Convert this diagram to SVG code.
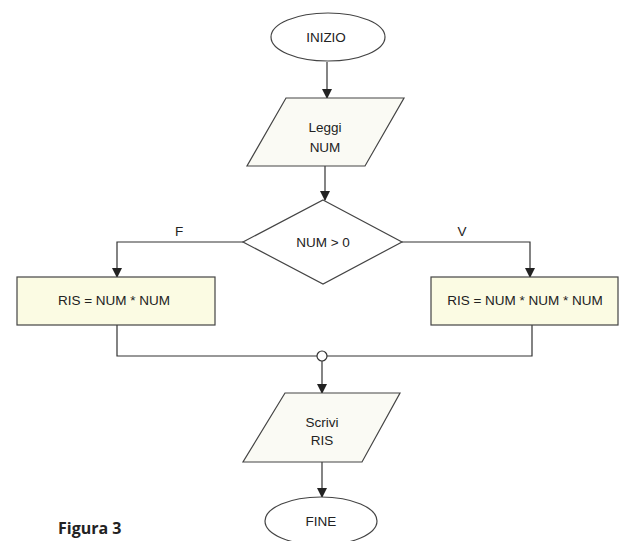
<svg xmlns="http://www.w3.org/2000/svg" width="622" height="541" viewBox="0 0 622 541">
<defs>
<marker id="arr" markerWidth="10" markerHeight="10" refX="9" refY="5" orient="auto" markerUnits="userSpaceOnUse">
<path d="M0,0 L10,5 L0,10 Z" fill="#222"/>
</marker>
<style>
.sh{stroke:#444;stroke-width:1.2;}
.term{fill:#ffffff;}
.io{fill:#fafaf4;}
.proc{fill:#fbfbe3;}
.dec{fill:#ffffff;}
.t{font-family:"Liberation Sans",Arial,sans-serif;font-size:13.5px;fill:#222;text-anchor:middle;}
.c{fill:none;stroke:#333;stroke-width:1.2;}
</style>
</defs>
<rect width="622" height="541" fill="#ffffff"/>
<g id="connectors">
<path class="c" d="M327,62 V98" marker-end="url(#arr)"/>
<path class="c" d="M325,166 V200" marker-end="url(#arr)"/>
<path class="c" d="M243,242 H117 V277" marker-end="url(#arr)"/>
<path class="c" d="M402,242 H530 V277" marker-end="url(#arr)"/>
<path class="c" d="M117,325 V356 H317"/>
<path class="c" d="M532,325 V356 H327"/>
<circle cx="322" cy="356" r="5" fill="#ffffff" stroke="#333" stroke-width="1.2"/>
<path class="c" d="M322,361 V393" marker-end="url(#arr)"/>
<path class="c" d="M322,462 V497" marker-end="url(#arr)"/>
<text class="t" x="179" y="236">F</text>
<text class="t" x="462" y="236">V</text>
</g>
<g id="inizio">
<ellipse class="sh term" cx="328" cy="37" rx="57" ry="24"/>
<text class="t" x="326" y="42">INIZIO</text>
</g>
<g id="leggi">
<polygon class="sh io" points="286,98 404,98 365,166 247,166"/>
<text class="t" x="325" y="132">Leggi</text>
<text class="t" x="325" y="152">NUM</text>
</g>
<g id="decisione">
<polygon class="sh dec" points="323,200 402,242 323,284 243,242"/>
<text class="t" x="323" y="247">NUM &gt; 0</text>
</g>
<g id="ris-f">
<rect class="sh proc" x="17" y="277" width="198" height="48"/>
<text class="t" x="114" y="305">RIS = NUM * NUM</text>
</g>
<g id="ris-v">
<rect class="sh proc" x="431" y="277" width="187" height="48"/>
<text class="t" x="525" y="305">RIS = NUM * NUM * NUM</text>
</g>
<g id="scrivi">
<polygon class="sh io" points="285,393 400,393 362,462 243,462"/>
<text class="t" x="322" y="427">Scrivi</text>
<text class="t" x="322" y="445">RIS</text>
</g>
<g id="fine">
<ellipse class="sh term" cx="321" cy="521" rx="56" ry="24"/>
<text class="t" x="321" y="526">FINE</text>
</g>
<text x="58" y="534" font-family="'Open Sans','Liberation Sans',Arial,sans-serif" font-size="16" font-weight="bold" fill="#222">Figura 3</text>
</svg>
